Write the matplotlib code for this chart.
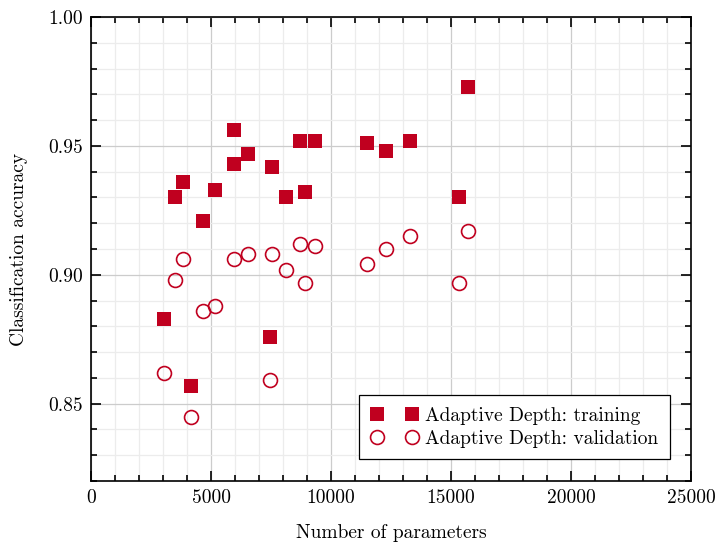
import numpy as np
import matplotlib
matplotlib.use('Agg')
import matplotlib.pyplot as plt
from matplotlib.ticker import MultipleLocator

# ================================================= Data ================================================= #

train_params = [3057, 3515, 3827, 4147, 4659, 5158, 5949, 5949, 6531, 7467,
                7558, 8141, 8694, 8902, 9318, 11510, 12284, 13299, 15316, 15695]
train_acc = [0.883, 0.930, 0.936, 0.857, 0.921, 0.933, 0.956, 0.943, 0.947, 0.876,
             0.942, 0.930, 0.952, 0.932, 0.952, 0.951, 0.948, 0.952, 0.930, 0.973]

val_params = [3057, 3515, 3827, 4147, 4659, 5158, 5949, 6531, 7467,
              7558, 8141, 8694, 8902, 9318, 11510, 12284, 13299, 15316, 15695]
val_acc = [0.862, 0.898, 0.906, 0.845, 0.886, 0.888, 0.906, 0.908, 0.859,
           0.908, 0.902, 0.912, 0.897, 0.911, 0.904, 0.910, 0.915, 0.897, 0.917]

red = '#c0001f'

# ================================================= Plotting ================================================= #

plt.rcParams['font.family'] = 'cmr10'
plt.rcParams['axes.formatter.use_mathtext'] = True
plt.rcParams['font.size'] = 14

fig = plt.figure(figsize=(7.19, 5.42), dpi=100)
ax = fig.add_axes([0.1266, 0.1125, 0.8344, 0.8561])

ax.plot(train_params, train_acc, 's', color=red, markersize=9.5, markeredgewidth=0,
        label='Adaptive Depth: training', zorder=3)
ax.plot(val_params, val_acc, 'o', markerfacecolor='none', markeredgecolor=red,
        markersize=10, markeredgewidth=1.2, label='Adaptive Depth: validation', zorder=3)

ax.set_xlim(0, 25000)
ax.set_ylim(0.82, 1.00)
ax.xaxis.set_major_locator(MultipleLocator(5000))
ax.xaxis.set_minor_locator(MultipleLocator(1000))
ax.yaxis.set_major_locator(MultipleLocator(0.05))
ax.yaxis.set_minor_locator(MultipleLocator(0.01))
ax.yaxis.set_major_formatter(plt.FormatStrFormatter('%.2f'))
ax.xaxis.set_major_formatter(plt.FormatStrFormatter('%d'))

ax.grid(which='major', color='#cccccc', linewidth=0.9)
ax.grid(which='minor', color='#ececec', linewidth=0.9)
ax.set_axisbelow(True)

ax.tick_params(which='both', direction='in', top=True, right=True, width=1.2, colors='black')
ax.tick_params(which='major', length=7, pad=6)
ax.tick_params(which='minor', length=4)
for s in ax.spines.values():
    s.set_linewidth(1.2)

ax.set_xlabel('Number of parameters', labelpad=12)
ax.set_ylabel('Classification accuracy', labelpad=14)

leg = ax.legend(loc='lower right', bbox_to_anchor=(0.965, 0.047), numpoints=2,
                fancybox=False, framealpha=1, edgecolor='black', handlelength=2.4,
                handletextpad=0.4, borderpad=0.6, labelspacing=0.25, borderaxespad=0)
leg.get_frame().set_linewidth(0.9)

fig.savefig('out.png', dpi=100)
